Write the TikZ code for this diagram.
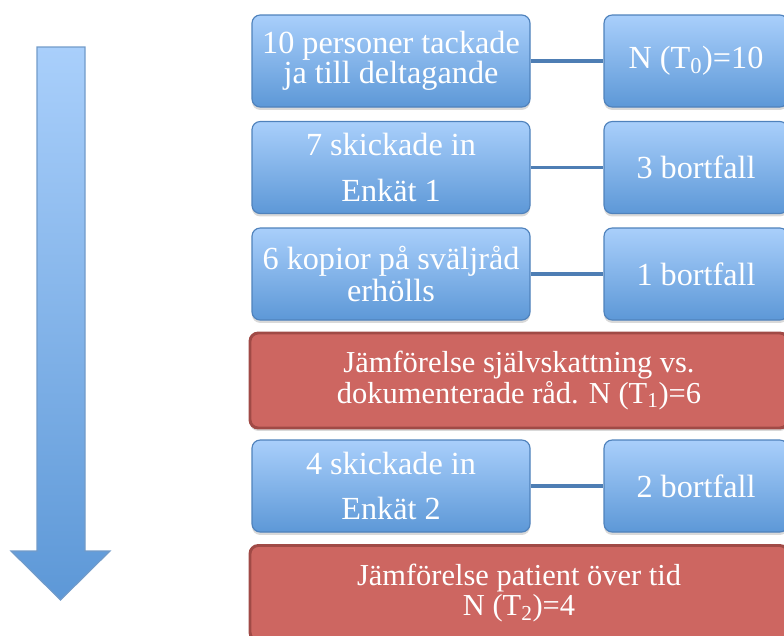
\documentclass[tikz,border=0pt]{standalone}
\usepackage{fontspec}
\setmainfont{Liberation Serif}
\usetikzlibrary{shadows}
\definecolor{boxtop}{HTML}{A9CFFB}
\definecolor{boxbot}{HTML}{5D98D7}
\definecolor{boxedge}{HTML}{4F82BC}
\definecolor{redfill}{HTML}{CD6661}
\definecolor{rededge}{HTML}{A04A46}
\definecolor{linkcol}{HTML}{4E7EB4}
\tikzset{
  bluebox/.style={draw=boxedge, line width=1pt, rounded corners=7pt,
    top color=boxtop, bottom color=boxbot, text=white, align=center,
    minimum height=27.6mm, inner sep=1pt,
    font=\fontsize{27.5}{25.5}\selectfont,
    drop shadow={opacity=0.3, shadow xshift=0pt, shadow yshift=-2.5pt}},
  redbox/.style={draw=rededge, line width=2.5pt, rounded corners=7pt,
    fill=redfill, text=white, align=center, minimum width=161.4mm,
    minimum height=28.5mm, font=\fontsize{26}{26}\selectfont,
    drop shadow={opacity=0.3, shadow xshift=0pt, shadow yshift=-2.5pt}},
  link/.style={draw=linkcol, line width=3.4pt},
}
\begin{document}
\begin{tikzpicture}[x=0.3mm, y=-0.3mm]
  \useasboundingbox (0,0) rectangle (784,635);
  % time arrow
  \draw[draw=boxedge!80!white, line width=1pt, top color=boxtop, bottom color=boxbot]
    (37,47) -- (85,47) -- (85,551) -- (110,551) -- (60.5,600)
    -- (11,551) -- (37,551) -- cycle;
  % left column
  \node (tack) [bluebox, minimum width=83.4mm] at (391,61)
    {10 personer tackade\\ja till deltagande};
  \node (enk1) [bluebox, minimum width=83.4mm] at (391,167.5)
    {7 skickade in\\[13pt]Enkät 1};
  \node (kop) [bluebox, minimum width=83.4mm] at (391,274)
    {6 kopior på sväljråd\\[2pt]erhölls};
  \node (jmf1) [redbox] at (519,380.5)
    {Jämförelse självskattning vs.\\dokumenterade råd. N (T\textsubscript{1})=6};
  \node (enk2) [bluebox, minimum width=83.4mm] at (391,486)
    {4 skickade in\\[13pt]Enkät 2};
  \node (jmf2) [redbox] at (519,593)
    {Jämförelse patient över tid\\N (T\textsubscript{2})=4};
  % right column
  \node (nT0) [bluebox, minimum width=55.2mm] at (696,61)
    {N (T\textsubscript{0})=10};
  \node (bort1) [bluebox, minimum width=55.2mm] at (696,167.5) {3 bortfall};
  \node (bort2) [bluebox, minimum width=55.2mm] at (696,274) {1 bortfall};
  \node (bort3) [bluebox, minimum width=55.2mm] at (696,486) {2 bortfall};
  % connectors
  \draw[link] (tack) -- (nT0);
  \draw[link] (enk1) -- (bort1);
  \draw[link] (kop) -- (bort2);
  \draw[link] (enk2) -- (bort3);
\end{tikzpicture}
\end{document}
